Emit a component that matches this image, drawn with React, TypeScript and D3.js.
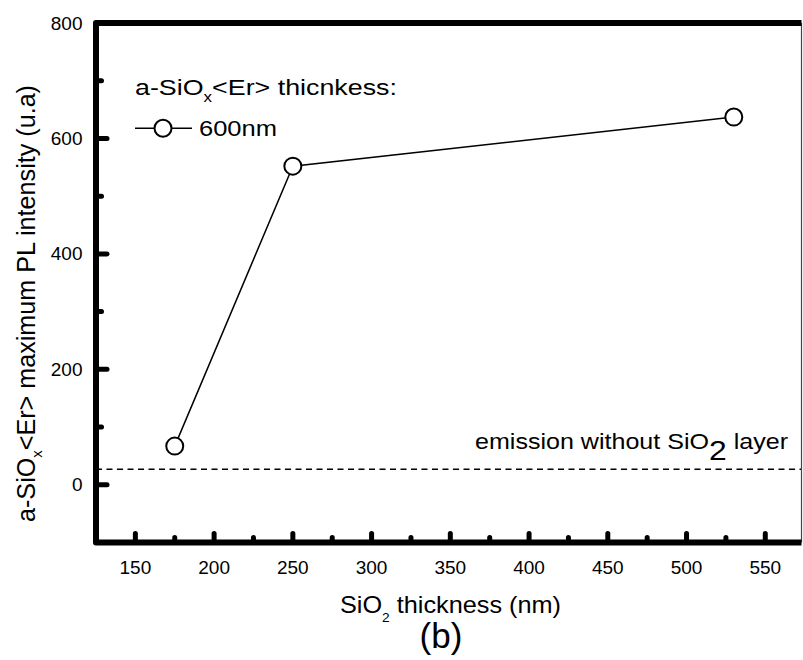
import React from 'react';
import * as d3 from 'd3';

const sio2Thickness = [175, 250, 530];
const plIntensity = [67, 552, 637];
const emissionWithoutSiO2 = 27;
const xMajorTicks = [150, 200, 250, 300, 350, 400, 450, 500, 550];
const xMinorTicks = [175, 225, 275, 325, 375, 425, 475, 525];
const yMajorTicks = [0, 200, 400, 600, 800];
const yMinorTicks = [100, 300, 500, 700];
const xDomain = [125, 573];
const yDomain = [-100, 800];

const FONT = 'Arial, "Liberation Sans", sans-serif';

export default function App() {
  const left = 96, right = 801.5, top = 23, bottom = 542.5;
  const x = d3.scaleLinear().domain(xDomain).range([left, right]);
  const y = d3.scaleLinear().domain(yDomain).range([bottom, top]);
  const pts = sio2Thickness.map((t, i) => [t, plIntensity[i]] as [number, number]);
  const line = d3.line<[number, number]>().x(d => x(d[0])).y(d => y(d[1]));
  const r = 8.5;

  return (
    <svg width={803} height={660} style={{ position: 'absolute', left: 0, top: 0, background: '#fff' }} fontFamily={FONT}>
      <rect x={0} y={0} width={803} height={660} fill="#fff" />
      {/* dashed reference */}
      <line x1={left} x2={right} y1={y(emissionWithoutSiO2)} y2={y(emissionWithoutSiO2)} stroke="#000" strokeWidth={1.6} strokeDasharray="6,4.5" />
      {/* right thin border */}
      <line x1={right} x2={right} y1={top} y2={bottom} stroke="#444" strokeWidth={1.2} />
      {/* thick frame: top, left, bottom */}
      <path d={`M${right},${top} L${left},${top} L${left},${bottom} L${right},${bottom}`} fill="none" stroke="#000" strokeWidth={6} strokeLinejoin="round" strokeLinecap="butt" />
      {/* x ticks */}
      {xMajorTicks.map(t => (
        <line key={'xM' + t} x1={x(t)} x2={x(t)} y1={bottom} y2={bottom - 9} stroke="#000" strokeWidth={5} strokeLinecap="round" />
      ))}
      {xMinorTicks.map(t => (
        <line key={'xm' + t} x1={x(t)} x2={x(t)} y1={bottom} y2={bottom - 5} stroke="#000" strokeWidth={5} strokeLinecap="round" />
      ))}
      {yMajorTicks.map(t => (
        <line key={'yM' + t} x1={left} x2={left + 11} y1={y(t)} y2={y(t)} stroke="#000" strokeWidth={5} strokeLinecap="round" />
      ))}
      {yMinorTicks.map(t => (
        <line key={'ym' + t} x1={left} x2={left + 5.5} y1={y(t)} y2={y(t)} stroke="#000" strokeWidth={5} strokeLinecap="round" />
      ))}
      {/* tick labels */}
      {xMajorTicks.map(t => (
        <text key={'xl' + t} x={x(t)} y={574} fontSize={19} textAnchor="middle">{t}</text>
      ))}
      {yMajorTicks.map(t => (
        <text key={'yl' + t} x={82.5} y={y(t) + 6.5} fontSize={19} textAnchor="end">{t}</text>
      ))}
      {/* data */}
      <path d={line(pts) || ''} fill="none" stroke="#000" strokeWidth={1.5} />
      {pts.map((p, i) => (
        <circle key={'c' + i} cx={x(p[0])} cy={y(p[1])} r={r} fill="#fff" stroke="#000" strokeWidth={2} />
      ))}
      {/* legend */}
      <text x={135} y={95} fontSize={22} textLength={262} lengthAdjust="spacingAndGlyphs">
        a-SiO<tspan fontSize={14} dy={7}>x</tspan><tspan dy={-7}>&lt;Er&gt; thicnkess:</tspan>
      </text>
      <line x1={135} x2={192} y1={128.3} y2={128.3} stroke="#000" strokeWidth={1.5} />
      <circle cx={163} cy={128.3} r={r} fill="#fff" stroke="#000" strokeWidth={2} />
      <text x={199} y={136} fontSize={22} textLength={78} lengthAdjust="spacingAndGlyphs">600nm</text>
      {/* emission annotation */}
      <text x={475} y={449} fontSize={22} textLength={313} lengthAdjust="spacingAndGlyphs">
        emission without SiO<tspan fontSize={28} dy={11}>2</tspan><tspan dy={-11}> layer</tspan>
      </text>
      {/* axis titles */}
      <text x={340} y={613} fontSize={24} textLength={221} lengthAdjust="spacingAndGlyphs">
        SiO<tspan fontSize={13} dy={9}>2</tspan><tspan dy={-9}> thickness (nm)</tspan>
      </text>
      <text x={441} y={648} fontSize={35} textAnchor="middle">(b)</text>
      <text transform="translate(35,303.5) rotate(-90)" fontSize={25.5} textAnchor="middle" textLength={437} lengthAdjust="spacingAndGlyphs">
        a-SiO<tspan fontSize={15} dy={7}>x</tspan><tspan dy={-7}>&lt;Er&gt; maximum PL intensity (u.a)</tspan>
      </text>
    </svg>
  );
}
